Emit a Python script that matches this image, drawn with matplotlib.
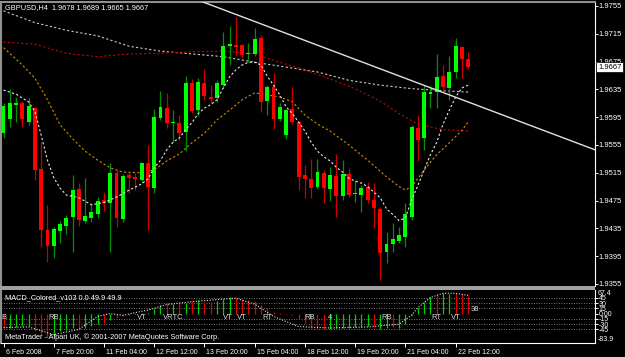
import matplotlib
matplotlib.use("Agg")
import matplotlib.pyplot as plt
import matplotlib.transforms as mtransforms
from matplotlib.patches import Rectangle
import numpy as np

plt.rcParams['font.family'] = ['Liberation Sans', 'DejaVu Sans']

# GBPUSD H4 candles
opens = [1.9572, 1.9592, 1.9613, 1.9615, 1.9588, 1.9608, 1.9520, 1.9433, 1.9410, 1.9431,
         1.9438, 1.9451, 1.9492, 1.9446, 1.9450, 1.9456, 1.9476, 1.9472, 1.9515, 1.9448,
         1.9512, 1.9509, 1.9505, 1.9529, 1.9493, 1.9594, 1.9608, 1.9587, 1.9587, 1.9574,
         1.9644, 1.9605, 1.9644, 1.9624, 1.9623, 1.9641, 1.9697, 1.9699, 1.9699, 1.9686,
         1.9686, 1.9709, 1.9618, 1.9638, 1.9592, 1.9569, 1.9607, 1.9588, 1.9512, 1.9506,
         1.9495, 1.9515, 1.9492, 1.9510, 1.9482, 1.9513, 1.9485, 1.9483, 1.9495, 1.9476,
         1.9463, 1.9401, 1.9412, 1.9417, 1.9423, 1.9451, 1.9579, 1.9565, 1.9628, 1.9631,
         1.9654, 1.9637, 1.9660, 1.9696, 1.9678]
highs = [1.9615, 1.9636, 1.9624, 1.9618, 1.9623, 1.9610, 1.9559, 1.9469, 1.9437, 1.9446,
         1.9454, 1.9512, 1.9500, 1.9508, 1.9470, 1.9480, 1.9487, 1.9529, 1.9519, 1.9513,
         1.9516, 1.9515, 1.9531, 1.9555, 1.9607, 1.9633, 1.9630, 1.9605, 1.9598, 1.9654,
         1.9650, 1.9651, 1.9664, 1.9641, 1.9649, 1.9718, 1.9726, 1.9739, 1.9700, 1.9702,
         1.9723, 1.9713, 1.9641, 1.9659, 1.9615, 1.9607, 1.9638, 1.9590, 1.9526, 1.9535,
         1.9535, 1.9519, 1.9523, 1.9542, 1.9533, 1.9522, 1.9505, 1.9497, 1.9502, 1.9500,
         1.9466, 1.9430, 1.9443, 1.9437, 1.9472, 1.9584, 1.9598, 1.9641, 1.9640, 1.9686,
         1.9670, 1.9683, 1.9709, 1.9697, 1.9689]
lows = [1.9565, 1.9581, 1.9588, 1.9581, 1.9584, 1.9505, 1.9408, 1.9387, 1.9392, 1.9414,
        1.9427, 1.9401, 1.9438, 1.9443, 1.9444, 1.9450, 1.9460, 1.9401, 1.9437, 1.9444,
        1.9486, 1.9490, 1.9500, 1.9433, 1.9486, 1.9591, 1.9579, 1.9559, 1.9562, 1.9546,
        1.9601, 1.9597, 1.9620, 1.9615, 1.9617, 1.9637, 1.9670, 1.9684, 1.9680, 1.9674,
        1.9683, 1.9602, 1.9598, 1.9578, 1.9589, 1.9564, 1.9585, 1.9490, 1.9479, 1.9479,
        1.9492, 1.9472, 1.9474, 1.9451, 1.9476, 1.9480, 1.9473, 1.9459, 1.9472, 1.9436,
        1.9361, 1.9385, 1.9401, 1.9414, 1.9408, 1.9447, 1.9532, 1.9548, 1.9608, 1.9608,
        1.9631, 1.9620, 1.9651, 1.9651, 1.9665]
closes = [1.9611, 1.9615, 1.9615, 1.9592, 1.9611, 1.9519, 1.9433, 1.9410, 1.9434, 1.9441,
          1.9450, 1.9490, 1.9447, 1.9453, 1.9459, 1.9474, 1.9472, 1.9515, 1.9450, 1.9510,
          1.9508, 1.9506, 1.9529, 1.9495, 1.9595, 1.9610, 1.9587, 1.9588, 1.9572, 1.9644,
          1.9604, 1.9646, 1.9626, 1.9621, 1.9644, 1.9697, 1.9700, 1.9696, 1.9684, 1.9687,
          1.9707, 1.9617, 1.9638, 1.9592, 1.9610, 1.9605, 1.9588, 1.9509, 1.9506, 1.9493,
          1.9516, 1.9493, 1.9512, 1.9482, 1.9513, 1.9483, 1.9486, 1.9493, 1.9476, 1.9464,
          1.9400, 1.9412, 1.9420, 1.9425, 1.9456, 1.9581, 1.9562, 1.9631, 1.9631, 1.9653,
          1.9638, 1.9660, 1.9697, 1.9678, 1.9667]

# moving averages (sampled at bar positions)
fast_ma_bars = [0, 2, 4, 5, 6, 7, 8, 9, 10, 12, 14, 16, 18, 20, 22, 23, 24, 25, 26, 27, 28, 29,
                30, 31, 32, 33, 34, 35, 36, 37, 38, 39, 40, 41, 42, 43, 44, 45, 46, 47, 48, 49,
                50, 51, 52, 53, 54, 55, 56, 57, 58, 59, 60, 61, 62, 63, 64, 65, 66, 67, 68, 69,
                70, 71, 72, 73, 74]
fast_ma = [1.9634, 1.9628, 1.9617, 1.9603, 1.9569, 1.9533, 1.9508, 1.9493, 1.9483, 1.9479,
           1.9469, 1.9472, 1.9480, 1.9490, 1.9499, 1.9506, 1.9522, 1.9533, 1.9548, 1.9559,
           1.9565, 1.9577, 1.9587, 1.9600, 1.9608, 1.9613, 1.9620, 1.9637, 1.9653, 1.9663,
           1.9670, 1.9674, 1.9674, 1.9670, 1.9654, 1.9641, 1.9627, 1.9610, 1.9600, 1.9588,
           1.9575, 1.9559, 1.9546, 1.9538, 1.9532, 1.9523, 1.9516, 1.9507, 1.9503, 1.9500,
           1.9495, 1.9487, 1.9479, 1.9463, 1.9455, 1.9446, 1.9450, 1.9476, 1.9497, 1.9519,
           1.9541, 1.9559, 1.9585, 1.9605, 1.9624, 1.9637, 1.9641]
mid_ma_bars = [0, 3, 5, 7, 9, 11, 13, 15, 17, 19, 22, 24, 26, 28, 30, 32, 34, 36, 38, 40,
               42, 44, 46, 48, 50, 52, 55, 58, 61, 63, 64, 65, 67, 69, 71, 73, 74]
mid_ma = [1.9695, 1.9670, 1.9651, 1.9620, 1.9584, 1.9564, 1.9546, 1.9533, 1.9522, 1.9516,
          1.9515, 1.9519, 1.9532, 1.9542, 1.9558, 1.9572, 1.9591, 1.9605, 1.9620, 1.9630,
          1.9627, 1.9624, 1.9617, 1.9598, 1.9585, 1.9575, 1.9555, 1.9533, 1.9509, 1.9495,
          1.9490, 1.9495, 1.9519, 1.9541, 1.9558, 1.9576, 1.9588]
red_ma_bars = [0, 5, 8, 10, 15, 20, 25, 30, 35, 40, 44, 48, 52, 56, 60, 63, 66, 70, 74]
red_ma = [1.9703, 1.9700, 1.9692, 1.9687, 1.9682, 1.9686, 1.9687, 1.9689, 1.9690, 1.9686,
          1.9674, 1.9663, 1.9650, 1.9636, 1.9618, 1.9600, 1.9585, 1.9577, 1.9575]
slow_ma_bars = [0, 5, 10, 15, 20, 25, 30, 35, 40, 45, 50, 55, 60, 65, 70, 74]
slow_ma = [1.9748, 1.9731, 1.9720, 1.9712, 1.9697, 1.9690, 1.9686, 1.9682, 1.9674, 1.9667,
           1.9660, 1.9648, 1.9641, 1.9636, 1.9633, 1.9631]

trend_bars = [30.8, 94.2]
trend_prices = [1.9764, 1.9548]

price_ticks = [1.9355, 1.9395, 1.9435, 1.9475, 1.9515, 1.9555, 1.9595, 1.9635, 1.9675, 1.9715, 1.9755]
date_ticks = [0, 8, 16, 24, 32, 40, 48, 56, 64, 72]
date_labels = ["6 Feb 2008", "7 Feb 20:00", "11 Feb 04:00", "12 Feb 12:00", "13 Feb 20:00",
               "15 Feb 04:00", "18 Feb 12:00", "19 Feb 20:00", "21 Feb 04:00", "22 Feb 12:00"]

# MACD_Colored histogram
macd_hist = [-38, -42, -38, -34, -36, -51, -60, -70, -65, -51,
             -46, -41, -46, -41, -36, -31, -27, -17, -12, -6,
             -3, 1, 3, 2, 12, 25, 29, 27, 32, 29,
             35, 38, 34, 32, 36, 42, 46, 45, 42, 40,
             36, 26, 16, 6, 2, -3, -5, -14, -28, -40,
             -44, -45, -44, -42, -40, -40, -38, -37, -36, -37,
             -45, -42, -39, -40, -31, -4, 17, 32, 46, 56,
             58, 56, 58, 56, 50]
macd_up = "rgggg rrrgg ggrgg grgrr ggrgg grgrg rgrrg ggrrr rrrrr rrrrr rrgggg gggrg grggg gggrg grrrr".replace(" ", "")
signal_bars = [0, 4, 8, 12, 15, 17, 19, 21, 23, 26, 30, 34, 37, 40, 43, 47, 52, 58, 63, 65, 66, 68, 70, 72, 74]
signal = [-40, -38, -60, -45, -8, 0, -5, 3, 10, 26, 34, 40, 44, 27, -8, -37, -41, -38, -30, -4, 17, 46, 58, 58, 52]
macd_marks = ["B", "RB", "VT", "VRTC", "VT", "VT", "RT", "RB", "4", "RB", "RT", "VT"]
macd_mark_bars = [0, 8, 22, 27, 35.7, 38, 42, 48.8, 52, 61, 69, 72]
macd_levels = [45, 30, 15, -15, -30, -45]

W, H = 625, 357
fig = plt.figure(figsize=(W / 100, H / 100), dpi=100, facecolor='black')

def px_box(x0, y0, x1, y1):
    return [x0 / W, 1 - y1 / H, (x1 - x0) / W, (y1 - y0) / H]

ax = fig.add_axes(px_box(1, 2, 595, 286), facecolor='black')
ax2 = fig.add_axes(px_box(1, 290, 595, 343), facecolor='black', sharex=ax)

n = len(closes)
xs = np.arange(n)
o = np.array(opens); c = np.array(closes)
up = c >= o
body_col = np.where(up, '#00ff00', '#ff0000')
wick_col = np.where(up, '#009000', '#cc0000')

ax.vlines(xs, lows, highs, colors=wick_col, lw=0.9, zorder=3)
ax.bar(xs, np.maximum(np.abs(c - o), 0.00012), bottom=np.minimum(o, c), width=0.62,
       color=body_col, linewidth=0, zorder=4)

dash = (0, (2, 2))
ax.plot(slow_ma_bars, slow_ma, color='#c8c8c8', lw=0.8, ls=dash, zorder=2)
ax.plot(red_ma_bars, red_ma, color='#c80000', lw=0.8, ls=dash, zorder=2)
ax.plot(mid_ma_bars, mid_ma, color='#d08c00', lw=0.8, ls=dash, zorder=2)
ax.plot(fast_ma_bars, fast_ma, color='#e8e8e8', lw=0.8, ls=dash, zorder=5)
ax.plot(trend_bars, trend_prices, color='#e0e0e0', lw=1.0, zorder=6)

ax.set_xlim(-0.4, 94.2)
ax.set_ylim(1.93520, 1.97607)
ax.yaxis.tick_right()
ax.set_yticks(price_ticks)
ax.set_yticklabels([f"{p:.4f}" for p in price_ticks])
ax.tick_params(axis='y', colors='white', labelsize=5.5, length=2, width=0.7, pad=0.8)
ax.tick_params(axis='x', bottom=False, labelbottom=False)
for s in ['left', 'top']:
    ax.spines[s].set_color('#909090'); ax.spines[s].set_linewidth(1.5)
ax.spines['right'].set_color('white'); ax.spines['right'].set_linewidth(0.8)
ax.spines['bottom'].set_visible(False)

# current price box
off = mtransforms.ScaledTranslation(0.03, 0, fig.dpi_scale_trans)
tr = mtransforms.blended_transform_factory(ax.transAxes, ax.transData) + off
ax.text(1.0, closes[-1], f"{closes[-1]:.4f}", transform=tr, ha='left', va='center',
        fontsize=5.5, color='black', clip_on=False, zorder=10,
        bbox=dict(boxstyle='square,pad=0.2', fc='white', ec='black', lw=0.5))

# MACD panel
hist_col = ['#00d000' if ch == 'g' else '#e00000' for ch in macd_up]
ax2.vlines(xs, 0, macd_hist, colors=hist_col, lw=0.9, zorder=3)
ax2.plot(signal_bars, signal, color='#e0e0e0', lw=0.8, ls=(0, (1, 1.5)), zorder=4)
for lv in macd_levels:
    ax2.axhline(lv, color='#a0a0a0', lw=0.6, ls=(0, (1, 2)), zorder=1)
for m, b in zip(macd_marks, macd_mark_bars):
    ax2.text(b, -11, m, color='#d8d8d8', fontsize=5.5, ha='center', va='center', zorder=5)
ax2.text(75, 12, "38", color='#d8d8d8', fontsize=5.5, ha='center', va='center', zorder=5)

ax2.set_ylim(-83.9, 67.4)
ax2.yaxis.tick_right()
ax2.set_yticks([45, 30, 15, 0, -15, -30, -45])
ax2.set_yticklabels(["45", "30", "15", "0.00", "-15", "-30", "-45"])
ax2.tick_params(axis='y', colors='white', labelsize=5, length=2, width=0.7, pad=0.8)
rtr = mtransforms.blended_transform_factory(ax2.transAxes, ax2.transAxes) + off
ax2.text(1.0, 1.0, "67.4", transform=rtr, ha='left', va='top', fontsize=5, color='white', clip_on=False)
ax2.text(1.0, 0.0, "-83.9", transform=rtr, ha='left', va='bottom', fontsize=5, color='white', clip_on=False)

ax2.set_xticks(date_ticks)
ax2.set_xticklabels(date_labels, ha='left')
ax2.tick_params(axis='x', colors='white', labelsize=5, length=3, width=0.7, pad=1)
shift = mtransforms.ScaledTranslation(0.02, 0, fig.dpi_scale_trans)
for lbl in ax2.get_xticklabels():
    lbl.set_transform(lbl.get_transform() + shift)
ax2.spines['left'].set_color('#909090'); ax2.spines['left'].set_linewidth(1.5)
ax2.spines['top'].set_visible(False)
ax2.spines['right'].set_color('white'); ax2.spines['right'].set_linewidth(0.8)
ax2.spines['bottom'].set_color('white'); ax2.spines['bottom'].set_linewidth(0.8)

# separator bar between panels
fig.add_artist(Rectangle((0, 1 - 290 / H), 595 / W, 4 / H, transform=fig.transFigure,
                         facecolor='#a0a0a0', edgecolor='none'))

fig.text(5 / W, 1 - 8 / H, "GBPUSD,H4  1.9678 1.9689 1.9665 1.9667", color='white',
         fontsize=5.3, va='center', ha='left')
fig.text(5 / W, 1 - 298 / H, "MACD_Colored_v103 0.0 49.9 49.9", color='white',
         fontsize=5.3, va='center', ha='left')
fig.text(5 / W, 1 - 337 / H, "MetaTrader - Alpari UK, \u00a9 2001-2007 MetaQuotes Software Corp.",
         color='white', fontsize=5.3, va='center', ha='left')

fig.savefig("out.png", dpi=100, facecolor='black')
